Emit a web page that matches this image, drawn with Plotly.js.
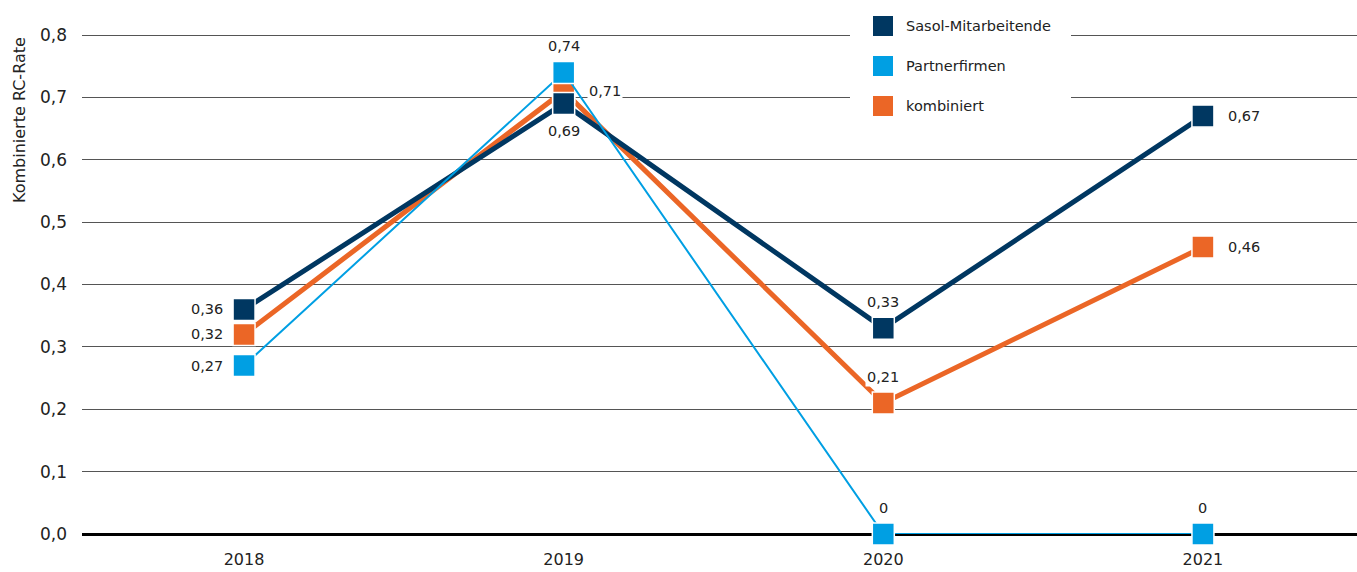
<!DOCTYPE html>
<html>
<head>
<meta charset="utf-8">
<script src="https://cdn.plot.ly/plotly-3.0.1.min.js"></script>
<style>
  html, body { margin: 0; padding: 0; background: #ffffff; }
  #chart { width: 1357px; height: 572px; }
</style>
</head>
<body>
<div id="chart"></div>
<script>
// Jahre und RC-Raten je Gruppe
const years = ['2018', '2019', '2020', '2021'];
const seriesNames = ['Sasol-Mitarbeitende', 'Partnerfirmen', 'kombiniert'];
const sasolValues = [0.36, 0.69, 0.33, 0.67];
const partnerValues = [0.27, 0.74, 0, 0];
const combinedValues = [0.32, 0.71, 0.21, 0.46];
const yTickValues = [0, 0.1, 0.2, 0.3, 0.4, 0.5, 0.6, 0.7, 0.8];

// Styling
const colors = { sasol: '#003761', partner: '#009fe3', combined: '#eb6626' };
const FONT = 'DejaVu Sans, Verdana, sans-serif';
const TEXT = '#222222';
const W = 1357, H = 572;
const M = { l: 82, r: 0, t: 29, b: 38 };
const Y_MAX = 0.8 + 6 / 624;   // a little headroom so the 0,8 grid line is drawn
const plotW = W - M.l - M.r, plotH = H - M.t - M.b;
const px2x = p => (p - M.l) / plotW;
const px2y = p => (H - M.b - p) / plotH;

// Where each value label sits relative to its marker
const sasolPlace = ['left', 'below', 'above', 'right'];
const partnerPlace = ['left', 'above', 'above', 'above'];
const combinedPlace = ['left', 'right', 'above', 'right'];

function fmt(v) {
  return String(v).replace('.', ',');
}

function makeTrace(name, values, color, width) {
  return {
    type: 'scatter',
    mode: 'lines+markers',
    name: name,
    x: years,
    y: values,
    line: { color: color, width: width },
    marker: { symbol: 'square', size: 22, color: color, line: { color: '#ffffff', width: 1.5 } },
    cliponaxis: false,
    showlegend: false,
    hoverinfo: 'skip'
  };
}

function makeLabels(values, place) {
  return values.map((v, i) => {
    const side = place[i];
    const a = {
      x: i, y: v, xref: 'x', yref: 'y',
      text: fmt(v), showarrow: false,
      font: { family: FONT, size: 14.5, color: TEXT },
      bgcolor: '#ffffff', borderpad: 1,
      xanchor: 'center', yanchor: 'middle'
    };
    if (side === 'left') { a.xanchor = 'right'; a.xshift = -19; }
    if (side === 'right') { a.xanchor = 'left'; a.xshift = 23; }
    if (side === 'above') { a.yshift = 26; }
    if (side === 'below') { a.yshift = -27; }
    return a;
  });
}

// Drawing order: kombiniert below, then Sasol, then Partnerfirmen on top
const traces = [
  makeTrace(seriesNames[2], combinedValues, colors.combined, 5),
  makeTrace(seriesNames[0], sasolValues, colors.sasol, 5),
  makeTrace(seriesNames[1], partnerValues, colors.partner, 2)
];

// Legend: coloured squares and names on a white panel
const legendColors = [colors.sasol, colors.partner, colors.combined];
const legendRowsPx = [26, 66, 106];
const shapes = [{
  type: 'rect', xref: 'paper', yref: 'paper', layer: 'above',
  x0: px2x(850), x1: px2x(1071), y0: px2y(125), y1: px2y(4),
  fillcolor: '#ffffff', line: { width: 0 }
}];
const legendText = [];
seriesNames.forEach((n, i) => {
  const cy = legendRowsPx[i];
  shapes.push({
    type: 'rect', xref: 'paper', yref: 'paper', layer: 'above',
    x0: px2x(873), x1: px2x(893), y0: px2y(cy + 10), y1: px2y(cy - 10),
    fillcolor: legendColors[i], line: { width: 0 }
  });
  legendText.push({
    xref: 'paper', yref: 'paper', x: px2x(904), y: px2y(cy),
    xanchor: 'left', yanchor: 'middle', showarrow: false,
    text: n, font: { family: FONT, size: 14.5, color: TEXT }
  });
});

const annotations = [].concat(
  makeLabels(combinedValues, combinedPlace),
  makeLabels(sasolValues, sasolPlace),
  makeLabels(partnerValues, partnerPlace),
  legendText,
  [{
    xref: 'paper', yref: 'paper', x: px2x(19), y: px2y(120),
    xanchor: 'center', yanchor: 'middle', textangle: -90, showarrow: false,
    text: 'Kombinierte RC-Rate', font: { family: FONT, size: 16, color: TEXT }
  }]
);

const layout = {
  width: W, height: H,
  margin: M,
  paper_bgcolor: '#ffffff', plot_bgcolor: '#ffffff',
  separators: ',.',
  showlegend: false,
  font: { family: FONT, color: TEXT },
  xaxis: {
    type: 'category',
    range: [-0.507, 3.482],
    showgrid: false, zeroline: false, showline: false,
    ticks: '', ticklabelstandoff: 14,
    tickfont: { family: FONT, size: 16, color: TEXT },
    fixedrange: true
  },
  yaxis: {
    range: [0, Y_MAX],
    tickvals: yTickValues,
    tickformat: '.1f',
    showgrid: true, gridcolor: '#555555', gridwidth: 1,
    zeroline: true, zerolinecolor: '#000000', zerolinewidth: 3,
    showline: false, ticks: '', ticklabelstandoff: 14,
    tickfont: { family: FONT, size: 17, color: TEXT },
    fixedrange: true
  },
  shapes: shapes,
  annotations: annotations
};

Plotly.newPlot('chart', traces, layout, { displayModeBar: false, staticPlot: true });
</script>
</body>
</html>
